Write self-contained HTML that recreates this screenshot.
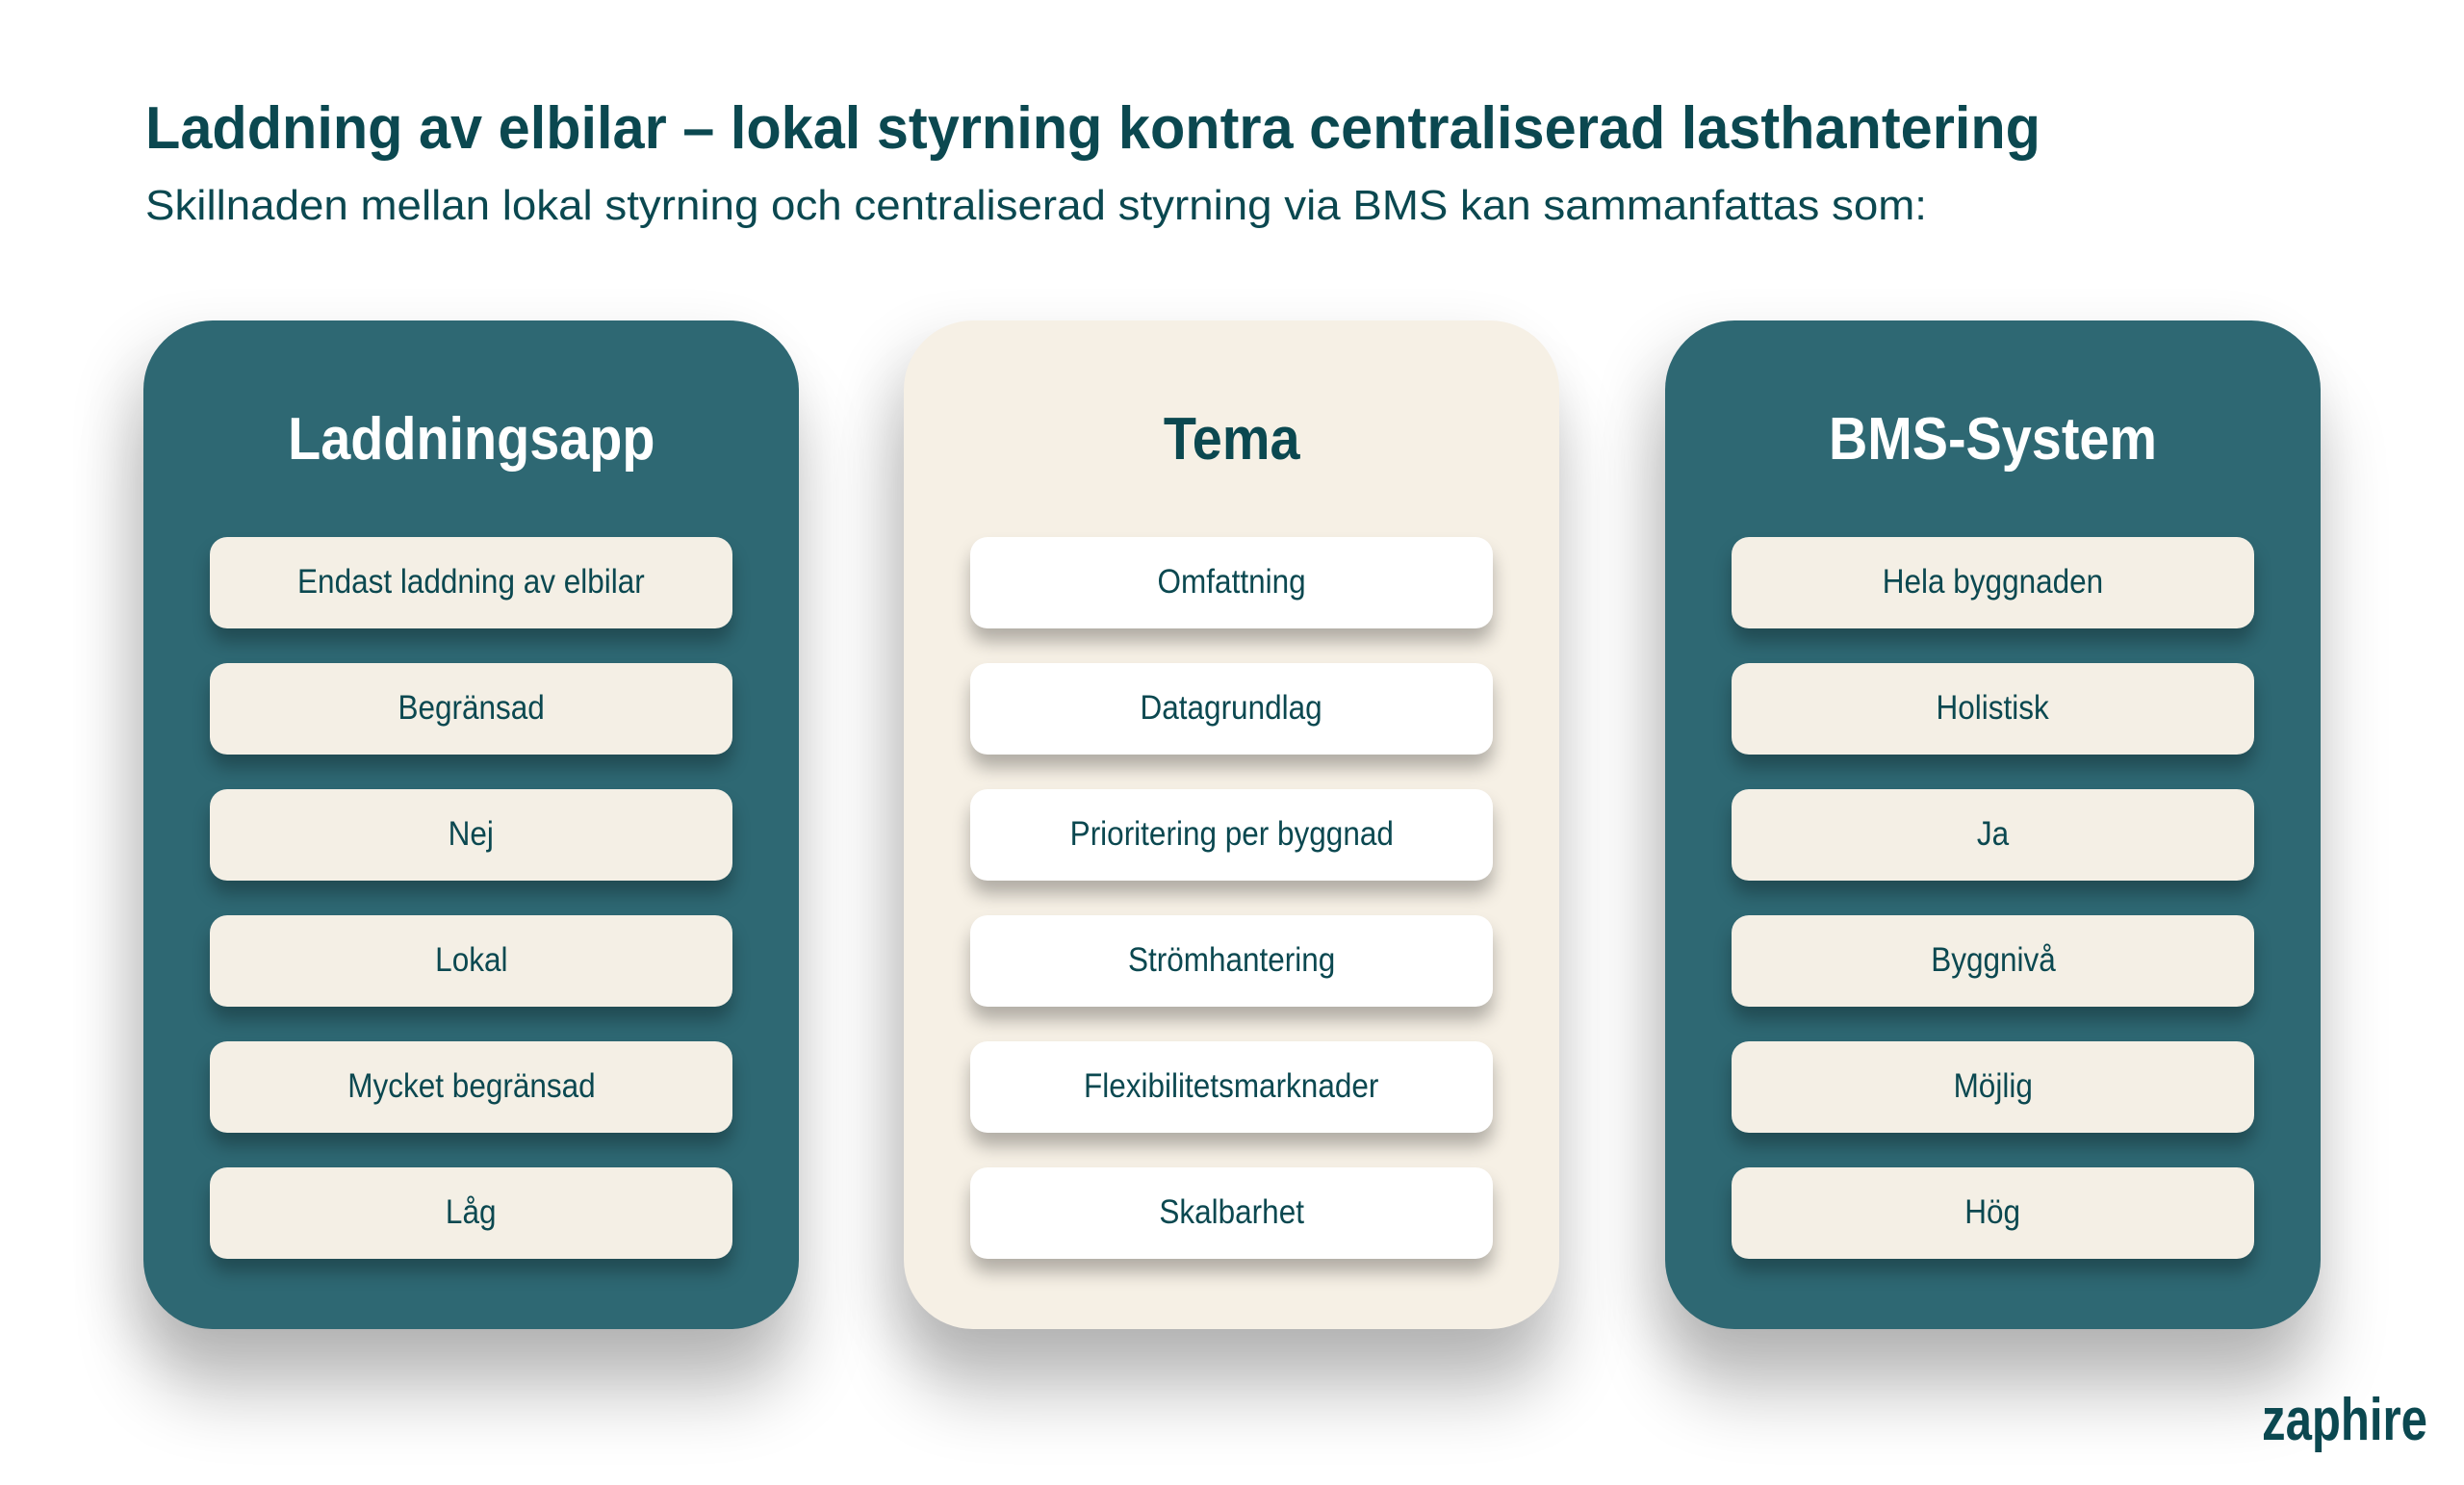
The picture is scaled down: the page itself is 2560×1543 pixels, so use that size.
<!DOCTYPE html>
<html><head><meta charset="utf-8"><style>
body{margin:0;width:2560px;height:1543px;background:#fff;position:relative;overflow:hidden;font-family:"Liberation Sans",sans-serif;}
.card{position:absolute;top:333px;width:681px;height:1048px;border-radius:72px;box-shadow:0 70px 70px rgba(0,0,0,0.22),-20px 20px 60px rgba(0,0,0,0.12);}
.teal{background:#2e6873;}
.cream{background:#f6f0e5;}
.h{position:absolute;left:0;right:0;text-align:center;font-weight:bold;font-size:62px;line-height:80px;}
.h span{display:inline-block;transform:scaleX(0.9);}
.row{position:absolute;left:69px;width:543px;height:95px;border-radius:18px;box-shadow:0 14px 18px rgba(0,0,0,0.28);text-align:center;line-height:93px;font-size:35px;color:#0b4850;}
.row span{display:inline-block;transform:scaleX(0.9);}
.teal .row{background:#f4efe5;}
.cream .row{background:#fff;}
</style></head><body>
<svg style="position:absolute;left:0;top:0" width="2560" height="300">
<text x="151" y="154" font-family="Liberation Sans" font-weight="bold" font-size="62" fill="#0b4850" textLength="1969" lengthAdjust="spacingAndGlyphs">Laddning av elbilar – lokal styrning kontra centraliserad lasthantering</text>
<text x="151" y="228" font-family="Liberation Sans" font-size="44" fill="#0b4850" textLength="1851" lengthAdjust="spacingAndGlyphs">Skillnaden mellan lokal styrning och centraliserad styrning via BMS kan sammanfattas som:</text>
</svg>

<div class="card teal" style="left:149px">
<div class="h" style="top:84px;color:#fff"><span>Laddningsapp</span></div>
<div class="row" style="top:225px"><span>Endast laddning av elbilar</span></div>
<div class="row" style="top:356px"><span>Begränsad</span></div>
<div class="row" style="top:487px"><span>Nej</span></div>
<div class="row" style="top:618px"><span>Lokal</span></div>
<div class="row" style="top:749px"><span>Mycket begränsad</span></div>
<div class="row" style="top:880px"><span>Låg</span></div>
</div>

<div class="card cream" style="left:939px">
<div class="h" style="top:84px;color:#0b4850"><span>Tema</span></div>
<div class="row" style="top:225px"><span>Omfattning</span></div>
<div class="row" style="top:356px"><span>Datagrundlag</span></div>
<div class="row" style="top:487px"><span>Prioritering per byggnad</span></div>
<div class="row" style="top:618px"><span>Strömhantering</span></div>
<div class="row" style="top:749px"><span>Flexibilitetsmarknader</span></div>
<div class="row" style="top:880px"><span>Skalbarhet</span></div>
</div>

<div class="card teal" style="left:1730px">
<div class="h" style="top:84px;color:#fff"><span>BMS-System</span></div>
<div class="row" style="top:225px"><span>Hela byggnaden</span></div>
<div class="row" style="top:356px"><span>Holistisk</span></div>
<div class="row" style="top:487px"><span>Ja</span></div>
<div class="row" style="top:618px"><span>Byggnivå</span></div>
<div class="row" style="top:749px"><span>Möjlig</span></div>
<div class="row" style="top:880px"><span>Hög</span></div>
</div>

<svg style="position:absolute;left:2290px;top:1430px" width="270" height="100">
<text x="60" y="66" font-family="Liberation Sans" font-weight="bold" font-size="62" fill="#0b4850" textLength="172" lengthAdjust="spacingAndGlyphs">zaphire</text>
</svg>
</body></html>
